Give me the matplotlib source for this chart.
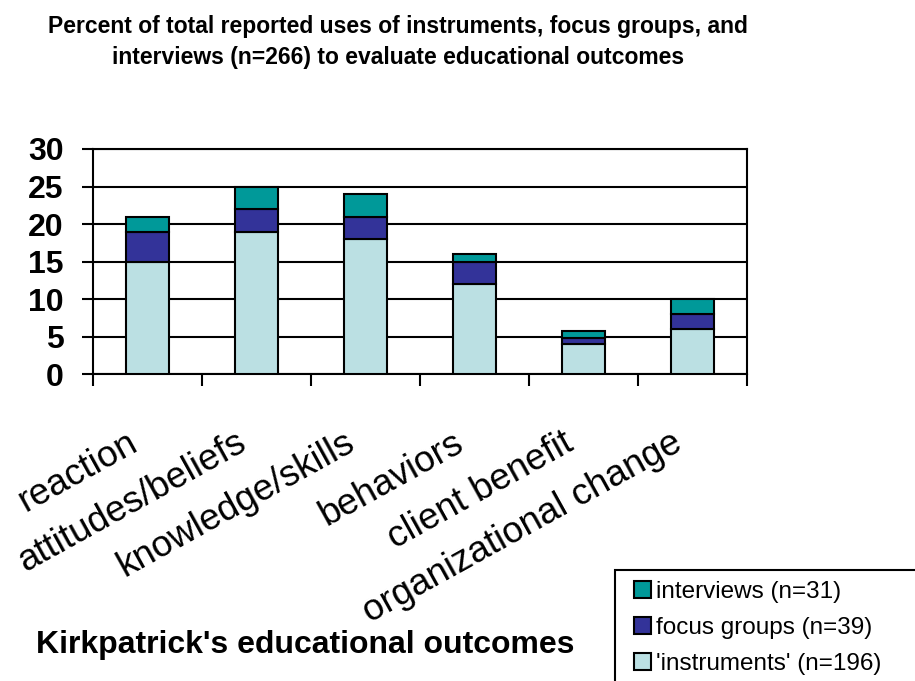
import matplotlib
matplotlib.use("Agg")
import matplotlib.pyplot as plt
import matplotlib.transforms as mtransforms
from matplotlib.patches import Patch, Rectangle
import numpy as np

plt.rcParams['font.family'] = ['Liberation Sans', 'DejaVu Sans']

categories = ["reaction", "attitudes/beliefs", "knowledge/skills",
              "behaviors", "client benefit", "organizational change"]
instruments = [15, 19, 18, 12, 4, 6]
focus_groups = [4, 3, 3, 3, 0.8, 2]
interviews = [2, 3, 3, 1, 1.0, 2]
series_labels = ["'instruments' (n=196)", "focus groups (n=39)", "interviews (n=31)"]
y_ticks = [0, 5, 10, 15, 20, 25, 30]

col_instr = "#BBE0E3"
col_focus = "#333399"
col_inter = "#009999"

W, H = 915, 681
fig = plt.figure(figsize=(W / 100, H / 100), dpi=100)
ax = fig.add_axes([93 / W, 1 - 374 / H, (747 - 93) / W, (374 - 149) / H])

x = np.arange(len(categories))
w = 0.4
edge = dict(edgecolor="black", linewidth=1.5, zorder=3)
base2 = np.array(instruments)
base3 = base2 + np.array(focus_groups)
ax.bar(x, instruments, w, color=col_instr, **edge)
ax.bar(x, focus_groups, w, bottom=base2, color=col_focus, **edge)
ax.bar(x, interviews, w, bottom=base3, color=col_inter, **edge)

ax.set_xlim(-0.5, len(categories) - 0.5)
ax.set_ylim(0, 30)
ax.set_yticks(y_ticks)
ax.set_yticklabels([str(v) for v in y_ticks], fontsize=23, fontweight="bold")
ax.tick_params(axis="y", direction="out", length=8, width=1.5, pad=13)
ax.set_xticks(np.arange(-0.5, len(categories), 1.0))
ax.set_xticklabels([])
ax.tick_params(axis="x", direction="out", length=8.5, width=1.5)
ax.yaxis.grid(True, color="black", linewidth=1.5, zorder=1)
ax.set_axisbelow(True)
for s in ax.spines.values():
    s.set_linewidth(1.5)
    s.set_color("black")

# rotated category labels under the axis
trans = mtransforms.blended_transform_factory(ax.transData, fig.transFigure)
for xi, lab in zip(x, categories):
    ax.text(xi - 0.04, 1 - 425 / H, lab, transform=trans, rotation=29,
            ha="right", va="top", fontsize=26.5, clip_on=False)

fig.text(398 / W, 1 - 42 / H,
         "Percent of total reported uses of instruments, focus groups, and\n"
         "interviews (n=266) to evaluate educational outcomes",
         ha="center", va="center", fontsize=16.5, fontweight="bold",
         linespacing=1.4)

fig.text(305 / W, 1 - 645 / H, "Kirkpatrick's educational outcomes",
         ha="center", va="center", fontsize=23, fontweight="bold")

# legend box running off the lower right corner
fig.patches.append(Rectangle((615 / W, -0.02), 0.5, 1 - 570 / H + 0.02,
                             transform=fig.transFigure, fill=False,
                             edgecolor="black", linewidth=1.5))
handles = [Patch(facecolor=col_inter, edgecolor="black", linewidth=1.5),
           Patch(facecolor=col_focus, edgecolor="black", linewidth=1.5),
           Patch(facecolor=col_instr, edgecolor="black", linewidth=1.5)]
leg = fig.legend(handles, series_labels[::-1], loc="upper left",
                 bbox_to_anchor=(634 / W, 1 - 581 / H),
                 fontsize=17.5, frameon=False,
                 handlelength=0.7, handleheight=0.7, handletextpad=0.2,
                 labelspacing=0.58, borderpad=0, borderaxespad=0)

fig.savefig("out.png", dpi=100)
